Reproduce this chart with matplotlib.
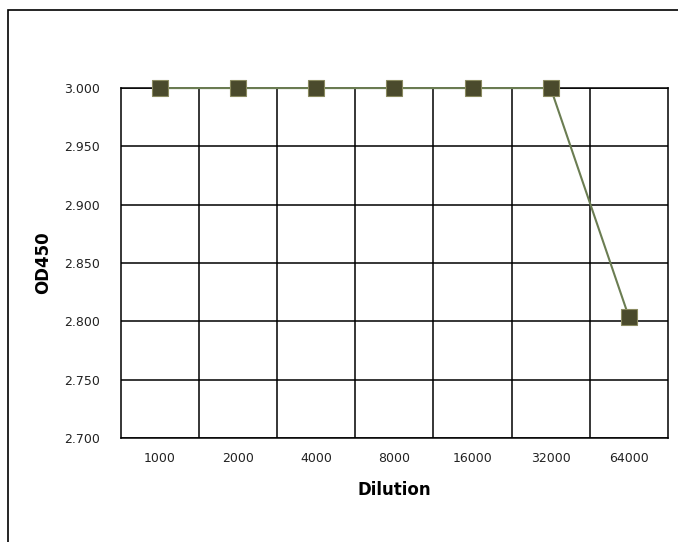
import matplotlib
matplotlib.use('Agg')
import matplotlib.pyplot as plt
from matplotlib.patches import Rectangle

# データ
dilutions = ['1000', '2000', '4000', '8000', '16000', '32000', '64000']
od450 = [3.000, 3.000, 3.000, 3.000, 3.000, 3.000, 2.804]
y_ticks = [2.700, 2.750, 2.800, 2.850, 2.900, 2.950, 3.000]

plt.rcParams['font.family'] = ['DejaVu Sans']

fig = plt.figure(figsize=(6.78, 5.42), dpi=100)
ax = fig.add_axes([0.1785, 0.192, 0.8065, 0.6455])

x = range(len(dilutions))
ax.plot(x, od450, color='#6b7d52', linewidth=1.5, marker='s', markersize=11,
        markerfacecolor='#4a4a2c', markeredgecolor='#8a8a60', markeredgewidth=0.8,
        zorder=3, clip_on=False)

ax.set_xlim(-0.5, len(dilutions) - 0.5)
ax.set_ylim(2.700, 3.000)
ax.set_yticks(y_ticks)
ax.set_yticklabels([f'{v:.3f}' for v in y_ticks])
ax.set_xticks(list(x))
ax.set_xticklabels(dilutions)
ax.set_xticks([i + 0.5 for i in range(len(dilutions) - 1)], minor=True)

ax.grid(True, which='major', axis='y', color='black', linewidth=1.1)
ax.grid(True, which='minor', axis='x', color='black', linewidth=1.1)
ax.tick_params(axis='both', which='both', length=0, labelsize=9, labelcolor='#222222')
ax.tick_params(axis='y', pad=15)
ax.tick_params(axis='x', pad=10)
for s in ax.spines.values():
    s.set_linewidth(1.1)

ax.set_xlabel('Dilution', fontsize=12, fontweight='bold', labelpad=12)
ax.set_ylabel('OD450', fontsize=12, fontweight='bold', labelpad=9)

# 外枠
fig.patches.append(Rectangle((8 / 678, -0.05), 1.0, 1 - 10 / 542 + 0.05,
                             transform=fig.transFigure, fill=False,
                             edgecolor='black', linewidth=1.2))

plt.savefig('out.png', dpi=100)
